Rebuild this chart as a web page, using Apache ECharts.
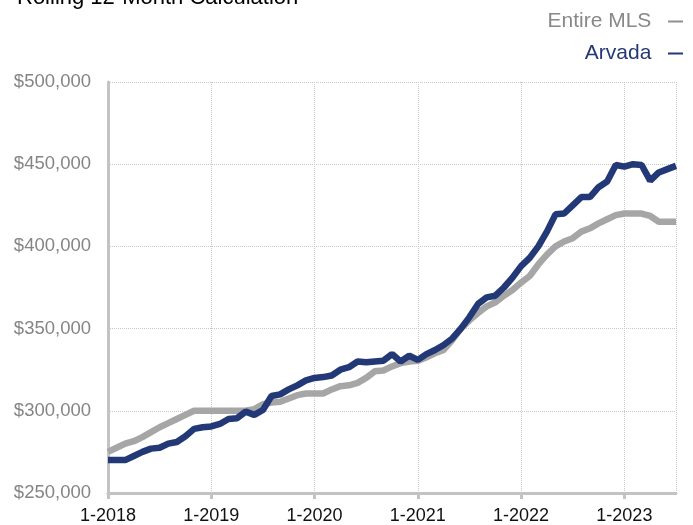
<!DOCTYPE html>
<html>
<head>
<meta charset="utf-8">
<script src="https://cdn.jsdelivr.net/npm/echarts@6/dist/echarts.min.js"></script>
<style>
  html, body { margin: 0; padding: 0; background: #ffffff; }
  #chart { width: 693px; height: 525px; }
</style>
</head>
<body>
<div id="chart"></div>
<script>
// Monthly categories, January 2018 through July 2023
const years = [2018, 2019, 2020, 2021, 2022, 2023];
const lastYearMonths = 7;
const months = [];
years.forEach(function (y) {
  const n = y === 2023 ? lastYearMonths : 12;
  for (let m = 1; m <= n; m++) months.push(m + '-' + y);
});

// Rolling 12-month median sales price, Entire MLS
const entireMLS = [
  275000, 277500, 280000, 281500, 284000, 287000, 290000, 292500, 295000, 297500, 300000, 300000,
  300000, 300000, 300000, 300000, 300000, 301000, 304000, 305000, 305500, 307500, 309500, 310500,
  310500, 310500, 313000, 315000, 315500, 317000, 320000, 324000, 324500, 327000, 329000, 330000,
  330500, 332500, 335000, 337000, 343000, 350000, 355000, 359500, 363500, 366000, 370000, 373500,
  378000, 382000, 389000, 395000, 400000, 403000, 405000, 409000, 411000, 414000, 416500, 419000,
  420000, 420000, 420000, 418500, 415000, 415000, 415000
];

// Rolling 12-month median sales price, Arvada
const arvada = [
  270000, 270000, 270000, 272500, 275000, 277000, 277500, 280000, 281000, 284500, 289000, 290000,
  290500, 292000, 295000, 295500, 299500, 297500, 300500, 309000, 310000, 313000, 315500, 318500,
  320000, 320500, 321500, 325000, 326500, 330000, 329500, 330000, 330500, 334500, 330000, 333500,
  331000, 334500, 337000, 340000, 344000, 350000, 357000, 365000, 369000, 370000, 375000, 381000,
  388000, 393000, 400000, 409000, 419500, 420000, 425000, 430000, 430000, 436000, 439500, 449500,
  448500, 450000, 449500, 440000, 445000, 447000, 449000
];

const yMin = 250000;
const yMax = 500000;
const yStep = 50000;

const grayLine = '#a6a6a6';
const navyLine = '#233876';
const axisGray = '#c3c3c3';
const font = 'Liberation Sans, Arial, sans-serif';

function money(v) {
  return '$' + String(v).replace(/\B(?=(\d{3})+(?!\d))/g, ',');
}

const chart = echarts.init(document.getElementById('chart'), null, { renderer: 'canvas' });

chart.setOption({
  animation: false,
  backgroundColor: '#ffffff',
  textStyle: { fontFamily: font },
  graphic: [{
    type: 'text',
    left: 17,
    top: -13,
    style: {
      text: 'Rolling 12-Month Calculation',
      fontSize: 22,
      fontFamily: font,
      fill: '#000000'
    }
  }],
  legend: {
    orient: 'vertical',
    right: 5,
    top: 6,
    align: 'right',
    itemGap: 11,
    itemWidth: 15,
    itemHeight: 2,
    icon: 'rect',
    selectedMode: false,
    formatter: function (name) { return name + '  '; },
    textStyle: { fontSize: 21, fontFamily: font },
    data: [
      { name: 'Entire MLS', textStyle: { color: '#888888' }, itemStyle: { color: '#8f8f8f' } },
      { name: 'Arvada', textStyle: { color: navyLine }, itemStyle: { color: navyLine } }
    ]
  },
  grid: { left: 108, right: 17, top: 82, bottom: 29, containLabel: false },
  xAxis: {
    type: 'category',
    data: months,
    boundaryGap: false,
    axisLine: { show: true, lineStyle: { color: axisGray, width: 3 } },
    axisTick: {
      show: true,
      length: 6,
      interval: function (i) { return i % 12 === 0; },
      lineStyle: { color: axisGray, width: 3 }
    },
    axisLabel: {
      interval: function (i) { return i % 12 === 0; },
      margin: 14,
      fontSize: 18,
      color: '#111111',
      fontFamily: font
    },
    splitLine: {
      show: true,
      interval: function (i) { return i % 12 === 0 || i === months.length - 1; },
      lineStyle: { color: '#c9c9c9', type: 'dotted', width: 1 }
    }
  },
  yAxis: {
    type: 'value',
    min: yMin,
    max: yMax,
    interval: yStep,
    axisLine: { show: true, lineStyle: { color: axisGray, width: 3 } },
    axisTick: { show: false },
    axisLabel: {
      formatter: money,
      margin: 17,
      fontSize: 18.5,
      color: '#858585',
      fontFamily: font
    },
    splitLine: { show: true, lineStyle: { color: '#c9c9c9', type: 'dotted', width: 1 } }
  },
  series: [
    {
      name: 'Entire MLS',
      type: 'line',
      data: entireMLS,
      showSymbol: false,
      color: grayLine,
      lineStyle: { color: grayLine, width: 6.5 }
    },
    {
      name: 'Arvada',
      type: 'line',
      data: arvada,
      showSymbol: false,
      color: navyLine,
      lineStyle: { color: navyLine, width: 6.5 }
    }
  ]
});
</script>
</body>
</html>
